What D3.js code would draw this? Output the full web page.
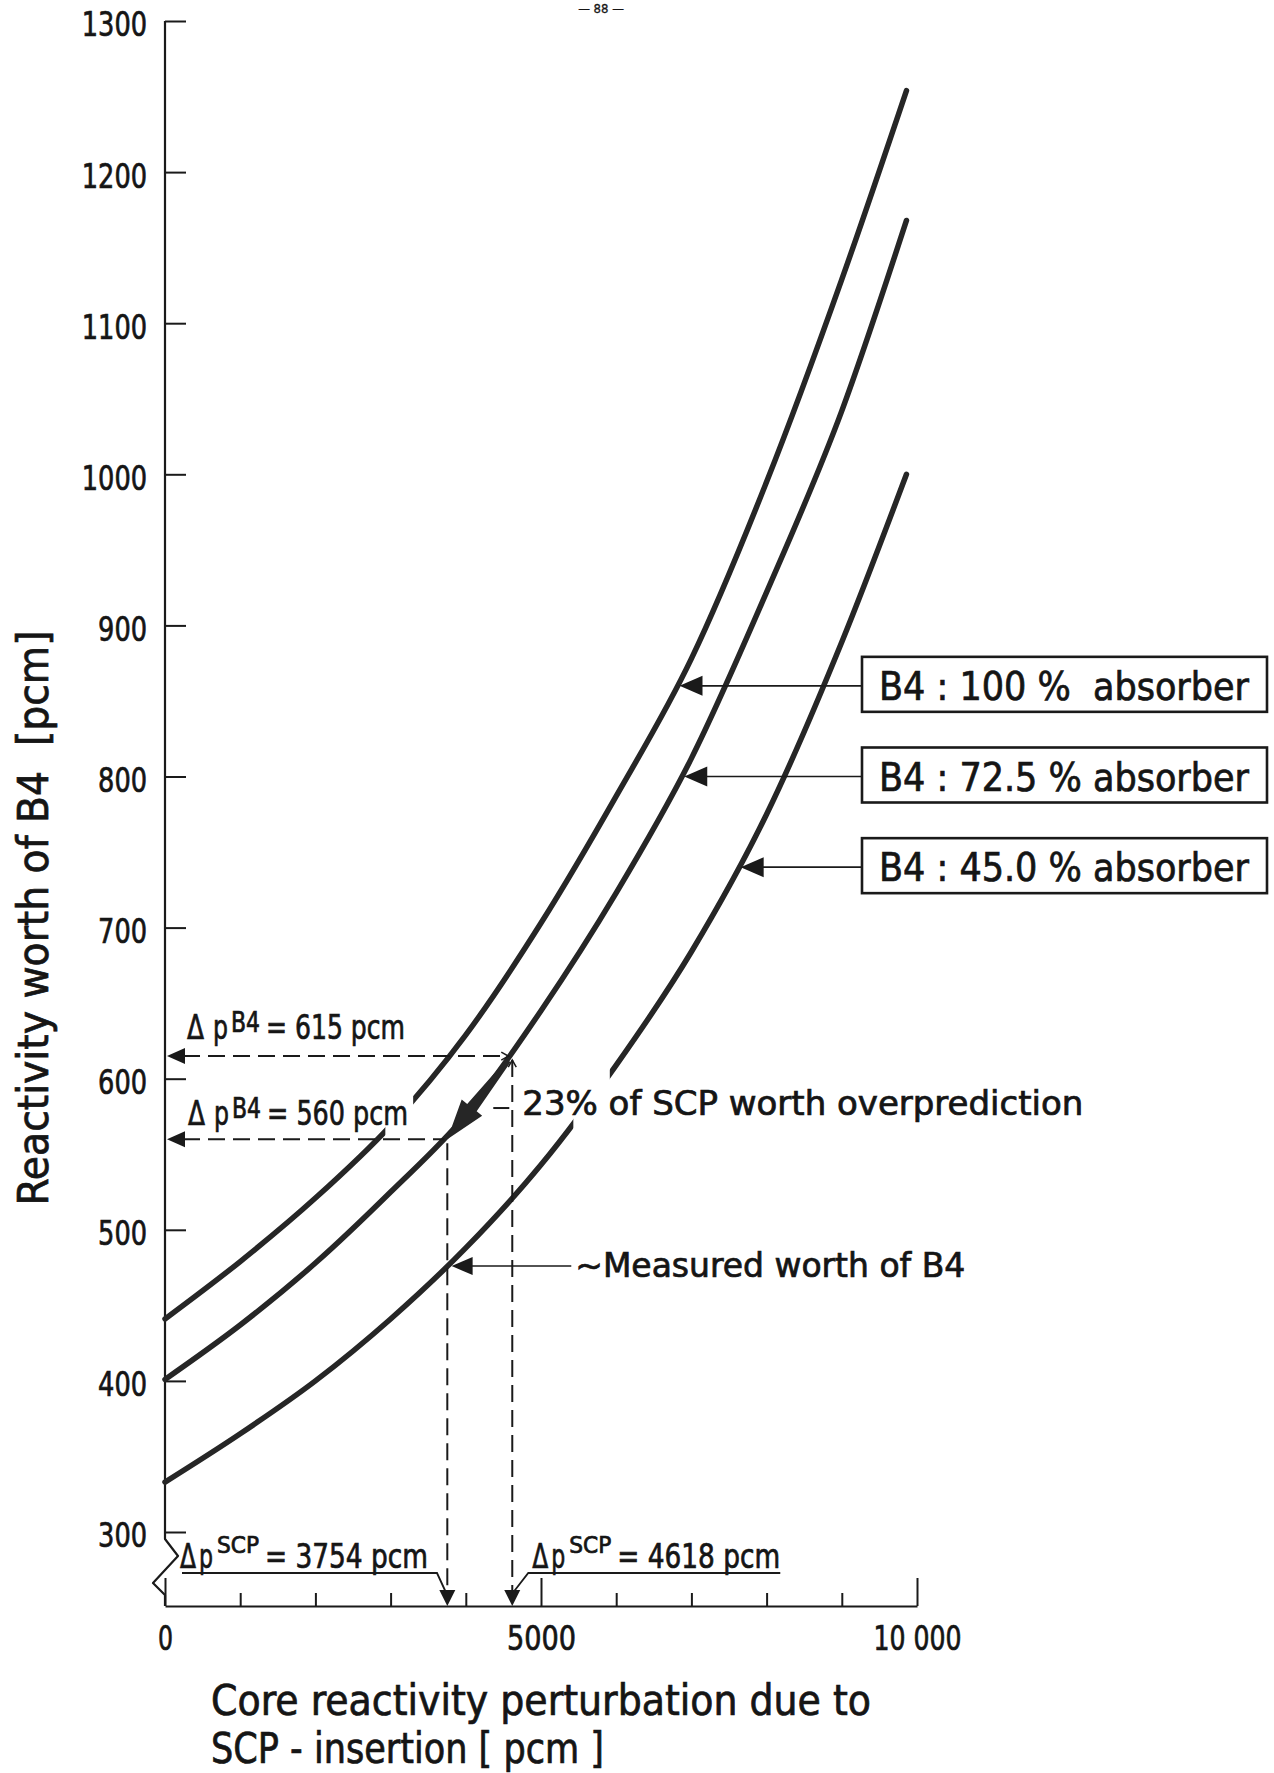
<!DOCTYPE html>
<html>
<head>
<meta charset="utf-8">
<script src="https://cdn.jsdelivr.net/npm/d3@7"></script>
<style>
body { margin: 0; background: #fff; }
svg text { font-family: "DejaVu Sans", sans-serif; font-stretch: condensed; fill: #151515; stroke: #151515; stroke-width: 0.7px; white-space: pre; }
</style>
</head>
<body>
<div id="chart"></div>
<script>
const W = 1274, H = 1773;

// core reactivity perturbation (SCP insertion) where the curves were read [pcm]
const scpValues = [0, 1000, 2000, 3000, 4000, 5000, 6000, 7000, 8000, 9000, 9860];
// reactivity worth of B4 [pcm]
const worth100 = [441, 479, 521, 569, 629, 703, 787, 878, 995, 1129, 1254];
const worth725 = [401, 437, 478, 525, 576, 645, 723, 812, 922, 1042, 1168];
const worth450 = [333, 365, 400, 441, 488, 543, 609, 684, 775, 889, 1000];

const seriesNames = ["B4 : 100 %  absorber", "B4 : 72.5 % absorber", "B4 : 45.0 % absorber"];
const pointerWorth = [860, 800, 740];          // where the box arrows touch the curves
const curveGaps = [[2930, 3300], null, [5430, 5915]];

const b4Worth = [615, 560];
const scpWorth = [4618, 3754];
const measuredWorth = 476;

const yTicks = [300, 400, 500, 600, 700, 800, 900, 1000, 1100, 1200, 1300];
const xMinorTicks = [1000, 2000, 3000, 4000, 6000, 7000, 8000, 9000];
const xMajorTicks = [0, 5000, 10000];
const xTickLabels = ["0", "5000", "10 000"];

const ink = "#1a1a1a";
const svg = d3.select("#chart").append("svg")
    .attr("width", W)
    .attr("height", H)
    .style("background", "#fff");

const x = d3.scaleLinear().domain([0, 10000]).range([165, 917]);
const y = d3.scaleLinear().domain([300, 1300]).range([1532, 21]);
const xAxisY = y(300) + 74;

function fit(sel, w) {
    return sel.attr("textLength", w).attr("lengthAdjust", "spacingAndGlyphs");
}

function arrowHead(tx, ty, angle, len, half) {
    const ux = Math.cos(angle), uy = Math.sin(angle);
    const bx = tx - ux * len, by = ty - uy * len;
    svg.append("path")
        .attr("d", `M${tx},${ty}L${bx - uy * half},${by + ux * half}L${bx + uy * half},${by - ux * half}Z`)
        .attr("fill", ink);
}

// page number at the top edge
svg.append("text").attr("x", 601).attr("y", 13).attr("text-anchor", "middle")
    .style("font-size", "13px").style("stroke-width", "0.3px").text("— 88 —");

// y axis
const yAxis = svg.append("g")
    .attr("transform", `translate(${x(0)},0)`)
    .call(d3.axisLeft(y).tickValues(yTicks).tickSize(-21).tickPadding(18).tickFormat(d3.format("d")));
yAxis.select(".domain").remove();
yAxis.selectAll("line").attr("stroke", ink).attr("stroke-width", 2);
yAxis.selectAll("text")
    .attr("dy", "0.44em")
    .style("font-size", "34px")
    .each(function(d) { fit(d3.select(this), String(d).length * 16.3); });

// axis line with the break below 300
const y0 = y(300), ax = x(0);
svg.append("path")
    .attr("d", d3.line()([[ax, y(1300)], [ax, y0 + 7], [ax + 13, y0 + 24], [ax - 12, y0 + 51], [ax, y0 + 63], [ax, xAxisY]]))
    .attr("fill", "none")
    .attr("stroke", ink)
    .attr("stroke-width", 2.2)
    .attr("stroke-linejoin", "round");

// x axis
const xMinor = svg.append("g")
    .attr("transform", `translate(0,${xAxisY})`)
    .call(d3.axisBottom(x).tickValues(xMinorTicks).tickSize(-13).tickSizeOuter(0).tickFormat(""));
xMinor.select(".domain").attr("stroke", ink).attr("stroke-width", 2.2);
xMinor.selectAll("line").attr("stroke", ink).attr("stroke-width", 2);

const xLabelWidths = [15, 69, 88];
const xMajor = svg.append("g")
    .attr("transform", `translate(0,${xAxisY})`)
    .call(d3.axisBottom(x).tickValues(xMajorTicks).tickSize(-28).tickFormat((d, i) => xTickLabels[i]));
xMajor.select(".domain").remove();
xMajor.selectAll("line").attr("stroke", ink).attr("stroke-width", 2);
xMajor.selectAll("text")
    .attr("y", 44)
    .attr("dy", 0)
    .style("font-size", "34px")
    .each(function(d, i) { fit(d3.select(this), xLabelWidths[i]); });

// axis titles
fit(svg.append("text")
    .attr("transform", `translate(48,${918}) rotate(-90)`)
    .attr("text-anchor", "middle")
    .style("font-size", "42px")
    .text("Reactivity worth of B4  [pcm]"), 575);

fit(svg.append("text").attr("x", 211).attr("y", 1715).style("font-size", "42px")
    .text("Core reactivity perturbation due to"), 660);
fit(svg.append("text").attr("x", 211).attr("y", 1763).style("font-size", "42px")
    .text("SCP - insertion [ pcm ]"), 393);

// curves
const series = [worth100, worth725, worth450];
const line = d3.line()
    .x((d, i) => x(scpValues[i]))
    .y(d => y(d))
    .curve(d3.curveMonotoneX);

series.forEach((vals, k) => {
    let clip = null;
    if (curveGaps[k]) {
        const id = "gap" + k;
        const cp = svg.append("clipPath").attr("id", id);
        cp.append("rect").attr("x", 0).attr("y", 0).attr("width", x(curveGaps[k][0])).attr("height", H);
        cp.append("rect").attr("x", x(curveGaps[k][1])).attr("y", 0).attr("width", W).attr("height", H);
        clip = `url(#${id})`;
    }
    svg.append("path")
        .attr("d", line(vals))
        .attr("fill", "none")
        .attr("stroke", "#262626")
        .attr("stroke-width", 5.5)
        .attr("stroke-linecap", "round")
        .attr("clip-path", clip);
});

// dashed read-off lines
b4Worth.forEach((w, i) => {
    const s = scpWorth[i];
    svg.append("line")
        .attr("x1", x(0) + 18).attr("x2", x(s) - 3)
        .attr("y1", y(w)).attr("y2", y(w))
        .attr("stroke", ink).attr("stroke-width", 2).attr("stroke-dasharray", "17,8");
    arrowHead(x(0) + 2, y(w), Math.PI, 18, 8);
    svg.append("line")
        .attr("x1", x(s)).attr("x2", x(s))
        .attr("y1", y(w) + 4).attr("y2", xAxisY - 15)
        .attr("stroke", ink).attr("stroke-width", 2).attr("stroke-dasharray", "17,8");
    arrowHead(x(s), xAxisY, Math.PI / 2, 16, 8);
});

// little open arrows at the 615 pcm point
{
    const px = x(scpWorth[0]), py = y(b4Worth[0]);
    svg.append("path").attr("d", `M${px - 11},${py - 4}L${px - 4},${py}L${px - 11},${py + 4}`)
        .attr("fill", "none").attr("stroke", ink).attr("stroke-width", 1.5);
    svg.append("path").attr("d", `M${px - 4},${py + 11}L${px},${py + 4}L${px + 4},${py + 11}`)
        .attr("fill", "none").attr("stroke", ink).attr("stroke-width", 1.5);
}

// heavy arrow: 23 % overprediction along the 72.5 % curve
{
    const p1 = [x(scpWorth[0]), y(b4Worth[0])];
    const p0 = [x(scpWorth[1]), y(b4Worth[1])];
    const dx = p0[0] - p1[0], dy = p0[1] - p1[1];
    const L = Math.hypot(dx, dy);
    const ux = dx / L, uy = dy / L, nx = -uy, ny = ux;
    const pt = (t, w) => [p1[0] + ux * t + nx * w, p1[1] + uy * t + ny * w];
    const hb = L - 40;
    const poly = [pt(6, 2.5), pt(hb, 6), pt(hb, 13), pt(L, 0), pt(hb, -13), pt(hb, -6), pt(6, -2.5)];
    svg.append("path").attr("d", "M" + poly.join("L") + "Z").attr("fill", "#262626");
}

// Δp labels
function deltaLabel(x0, base, sup, rest, o) {
    fit(svg.append("text").attr("x", x0).attr("y", base).style("font-size", o.size + "px").text("Δ"), o.dW);
    fit(svg.append("text").attr("x", x0 + o.pDx).attr("y", base).style("font-size", o.size + "px").text("p"), o.pW);
    fit(svg.append("text").attr("x", x0 + o.supDx).attr("y", base - o.rise).style("font-size", o.supSize + "px").text(sup), o.supW);
    fit(svg.append("text").attr("x", x0 + o.restDx).attr("y", base).style("font-size", o.size + "px").text(rest), o.restW);
}

const b4Opt = { size: 34, dW: 17, pDx: 26, pW: 15, supDx: 44, supSize: 28, rise: 7, supW: 29, restDx: 79, restW: 139 };
deltaLabel(x(0) + 22, y(b4Worth[0]) - 17, "B4", "= 615 pcm", b4Opt);
deltaLabel(x(0) + 23, y(b4Worth[1]) - 14, "B4", "= 560 pcm", Object.assign({}, b4Opt, { restW: 141 }));

const scpOpt = { size: 34, dW: 16, pDx: 19, pW: 14, supDx: 37, supSize: 23, rise: 15, supW: 42, restDx: 85, restW: 163 };
const scpBase = xAxisY - 38;
{
    const x0 = x(0) + 15;
    deltaLabel(x0, scpBase, "SCP", "= 3754 pcm", scpOpt);
    svg.append("path")
        .attr("d", `M${x0 + 2},${scpBase + 5}L${x0 + 257},${scpBase + 5}L${x(scpWorth[1]) - 2},${xAxisY - 15}`)
        .attr("fill", "none").attr("stroke", ink).attr("stroke-width", 1.8);
}
{
    const x0 = x(scpWorth[0]) + 20;
    deltaLabel(x0, scpBase, "SCP", "= 4618 pcm", scpOpt);
    svg.append("path")
        .attr("d", `M${x0 + 248},${scpBase + 5}L${x0 - 4},${scpBase + 5}L${x(scpWorth[0]) + 2},${xAxisY - 15}`)
        .attr("fill", "none").attr("stroke", ink).attr("stroke-width", 1.8);
}

// 23 % note
{
    const px = x(scpWorth[0]), base = y(b4Worth[0]) + 59;
    svg.append("line").attr("x1", px - 19).attr("x2", px - 3).attr("y1", base - 7).attr("y2", base - 7)
        .attr("stroke", ink).attr("stroke-width", 2);
    fit(svg.append("text").attr("x", px + 10).attr("y", base).style("font-size", "34px")
        .text("23% of SCP worth overprediction"), 561);
}

// measured worth pointer on the 45 % curve
{
    const inv = d3.scaleLinear().domain(worth450).range(scpValues);
    const ty = y(measuredWorth);
    const tx = x(inv(measuredWorth)) + 5;
    svg.append("line").attr("x1", tx + 18).attr("x2", x(scpWorth[0]) + 59).attr("y1", ty).attr("y2", ty)
        .attr("stroke", ink).attr("stroke-width", 1.6);
    arrowHead(tx, ty, Math.PI, 21, 9);
    fit(svg.append("text").attr("x", x(scpWorth[0]) + 63).attr("y", ty + 11).style("font-size", "34px")
        .text("~Measured worth of B4"), 390);
}

// labelled boxes with arrows to the curves
const boxLeft = 862, boxRight = 1267;
seriesNames.forEach((name, k) => {
    const inv = d3.scaleLinear().domain(series[k]).range(scpValues);
    const ty = y(pointerWorth[k]);
    const tx = x(inv(pointerWorth[k])) + 3;
    svg.append("line").attr("x1", tx + 20).attr("x2", boxLeft).attr("y1", ty).attr("y2", ty)
        .attr("stroke", ink).attr("stroke-width", 1.6);
    arrowHead(tx, ty, Math.PI, 23, 10);
    svg.append("rect")
        .attr("x", boxLeft).attr("y", ty - 29)
        .attr("width", boxRight - boxLeft).attr("height", 55)
        .attr("fill", "#fff").attr("stroke", ink).attr("stroke-width", 2.6);
    fit(svg.append("text").attr("x", boxLeft + 17).attr("y", ty + 14).style("font-size", "39px").text(name), 370);
});
</script>
</body>
</html>
